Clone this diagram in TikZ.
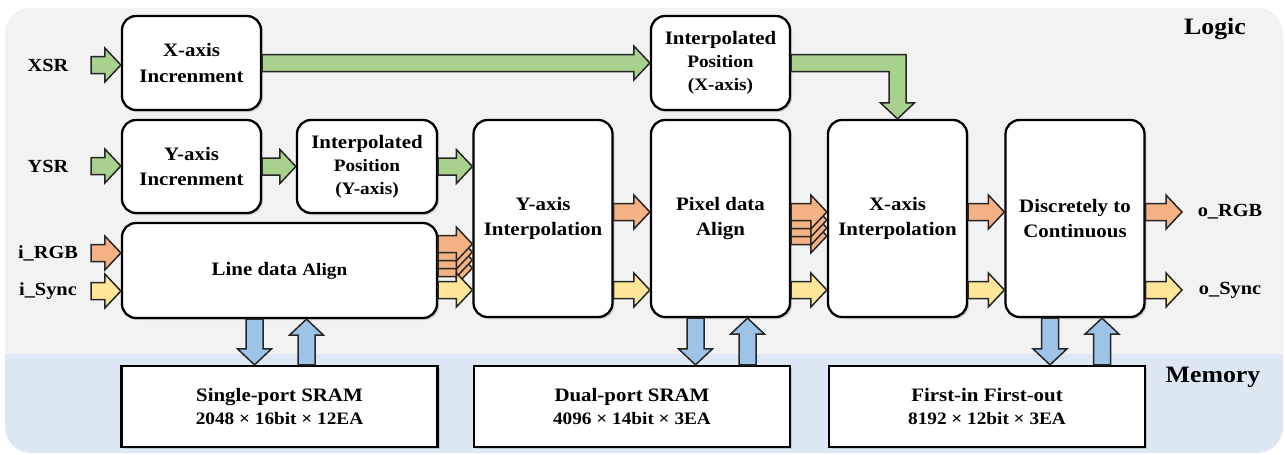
\documentclass[tikz,border=0pt]{standalone}
\usepackage{fontspec}
\setmainfont{Liberation Serif}[FakeStretch=1.1]
\usepackage{tikz}
\usetikzlibrary{positioning,calc,shadows}
\definecolor{logicbg}{HTML}{F2F2F2}
\definecolor{membg}{HTML}{DDE8F4}
\definecolor{ctlgreen}{HTML}{A9D18E}
\definecolor{rgborange}{HTML}{F4B183}
\definecolor{syncyellow}{HTML}{FFE699}
\definecolor{memblue}{HTML}{9DC3E6}
\newcommand\boxfont{\fontsize{19}{25}\selectfont\bfseries}
\newcommand\subfont{\fontsize{17.5}{23}\selectfont\bfseries}
\newcommand\tagfont{\fontsize{18.5}{22}\selectfont\bfseries}
\newcommand\zonefont{\fontsize{23.5}{28}\selectfont\bfseries}
% block arrow from #2 to the tip #3
\newcommand\fatarrow[3][ctlgreen]{%
  \path #2 coordinate (fa-s) #3 coordinate (fa-t);
  \path ($(fa-t)!16pt!(fa-s)$) coordinate (fa-h);
  \draw[fatarr, fill=#1] ($(fa-s)!8.5pt!90:(fa-t)$) -- ($(fa-h)!8.5pt!-90:(fa-s)$)
    -- ($(fa-h)!17pt!-90:(fa-s)$) -- (fa-t) -- ($(fa-h)!17pt!90:(fa-s)$)
    -- ($(fa-h)!8.5pt!90:(fa-s)$) -- ($(fa-s)!8.5pt!-90:(fa-t)$) -- cycle;}

\begin{document}
\begin{tikzpicture}[
  x=1pt, y=-1pt,
  blk/.style={draw, line width=2.3pt, rounded corners=14pt, fill=white, align=center,
    font=\boxfont, minimum width=139, drop shadow={shadow xshift=2pt, shadow yshift=-2pt, opacity=0.3}},
  tall/.style={minimum height=197},
  mem/.style={draw, line width=2.3pt, fill=white, align=center, font=\subfont,
    minimum width=316, minimum height=81, drop shadow={shadow xshift=2pt, shadow yshift=-2pt, opacity=0.3}},
  tag/.style={font=\tagfont, inner sep=0pt},
  fatarr/.style={draw=black!85, line width=1.5pt, line join=miter}
]
  \useasboundingbox (0,0) rectangle (1285,455);
  \fill[membg, rounded corners=26pt] (5,8) rectangle (1283,453);
  \begin{scope}
    \clip (0,0) rectangle (1285,353);
    \fill[logicbg, rounded corners=26pt] (5,8) rectangle (1283,453);
  \end{scope}
  \node[font=\zonefont] (logic) at (1215,29) {Logic};
  \node[font=\zonefont] (memory) at (1213,377) {Memory};

  \node[blk, minimum height=94] (xinc) at (191.5,63) {X-axis\\Increnment};
  \node[blk, minimum height=93] (yinc) at (191.5,166.5) {Y-axis\\Increnment};
  \node[blk, minimum width=140, minimum height=93, font=\subfont] (ipy) at (367,166.5) {{\boxfont Interpolated}\\Position\\(Y-axis)};
  \node[blk, minimum height=94, font=\subfont] (ipx) at (720.5,63) {{\boxfont Interpolated}\\Position\\(X-axis)};
  \node[blk, minimum width=315, minimum height=95] (lda) at (279.5,270.5) {Line data {\subfont Align}};
  \node[blk, tall] (yint) at (543,218.5) {Y-axis\\Interpolation};
  \node[blk, tall] (pda) at (720.5,218.5) {Pixel data\\Align};
  \node[blk, tall] (xint) at (897.5,218.5) {X-axis\\Interpolation};
  \node[blk, tall] (d2c) at (1075,218.5) {Discretely to\\Continuous};

  \node[mem] (sp) at (279.5,406.5) {{\boxfont Single-port SRAM}\\2048 × 16bit × 12EA};
  \node[mem] (dp) at (632,406.5) {{\boxfont Dual-port SRAM}\\4096 × 14bit × 3EA};
  \node[mem] (fifo) at (987,406.5) {{\boxfont First-in First-out}\\8192 × 12bit × 3EA};

  \node[tag] (xsr) at (48,65) {XSR};
  \node[tag] (ysr) at (48,166) {YSR};
  \node[tag] (irgb) at (48,253) {i\_RGB};
  \node[tag] (isync) at (48,291) {i\_Sync};
  \node[tag] (orgb) at (1230,212) {o\_RGB};
  \node[tag] (osync) at (1230,290) {o\_Sync};

  \coordinate (inx) at (91,0);
  \coordinate (outx) at (1182,0);
  \coordinate (rgbrow) at (0,212);
  \coordinate (stackrow) at (0,244);
  \coordinate (syncrow) at (0,290);

  \fatarrow{(inx |- xsr)}{(xinc.west |- xsr)}
  \fatarrow{(inx |- ysr)}{(yinc.west |- ysr)}
  \fatarrow[rgborange]{(inx |- irgb)}{(lda.west |- irgb)}
  \fatarrow[syncyellow]{(inx |- isync)}{(lda.west |- isync)}
  \fatarrow{(xinc.east)}{(ipx.west)}
  \fatarrow{(yinc.east)}{(ipy.west)}
  \fatarrow{(ipy.east)}{(ipy.east -| yint.west)}

  \coordinate (elb) at (xint.north |- ipx.east);
  \draw[fatarr, fill=ctlgreen] ($(ipx.east)+(0,-8.5)$) -- ($(elb)+(8.5,-8.5)$)
    -- ($(xint.north)+(8.5,-16)$) -- ($(xint.north)+(17,-16)$) -- (xint.north)
    -- ($(xint.north)+(-17,-16)$) -- ($(xint.north)+(-8.5,-16)$)
    -- ($(elb)+(-8.5,8.5)$) -- ($(ipx.east)+(0,8.5)$) -- cycle;

  \foreach \k in {24,16,8,0} {
    \fatarrow[rgborange]{($(lda.east |- stackrow)+(0,\k)$)}{($(yint.west |- stackrow)+(0,\k)$)}
    \fatarrow[rgborange]{($(pda.east |- rgbrow)+(0,\k)$)}{($(xint.west |- rgbrow)+(0,\k)$)}
  }
  \fatarrow[syncyellow]{(lda.east |- syncrow)}{(yint.west |- syncrow)}
  \fatarrow[rgborange]{(yint.east |- rgbrow)}{(pda.west |- rgbrow)}
  \fatarrow[syncyellow]{(yint.east |- syncrow)}{(pda.west |- syncrow)}
  \fatarrow[syncyellow]{(pda.east |- syncrow)}{(xint.west |- syncrow)}
  \fatarrow[rgborange]{(xint.east |- rgbrow)}{(d2c.west |- rgbrow)}
  \fatarrow[syncyellow]{(xint.east |- syncrow)}{(d2c.west |- syncrow)}
  \fatarrow[rgborange]{(d2c.east |- rgbrow)}{(outx |- rgbrow)}
  \fatarrow[syncyellow]{(d2c.east |- syncrow)}{(outx |- syncrow)}

  \foreach \up/\dn in {lda/sp, pda/dp, d2c/fifo} {
    \path ($(\up.south)+(-25,0)$) coordinate (dn-a) (dn-a |- \dn.north) coordinate (dn-b);
    \path ($(\up.south)+(27,0)$) coordinate (up-a) (up-a |- \dn.north) coordinate (up-b);
    \fatarrow[memblue]{(dn-a)}{(dn-b)}
    \fatarrow[memblue]{(up-b)}{(up-a)}
  }
\end{tikzpicture}
\end{document}
